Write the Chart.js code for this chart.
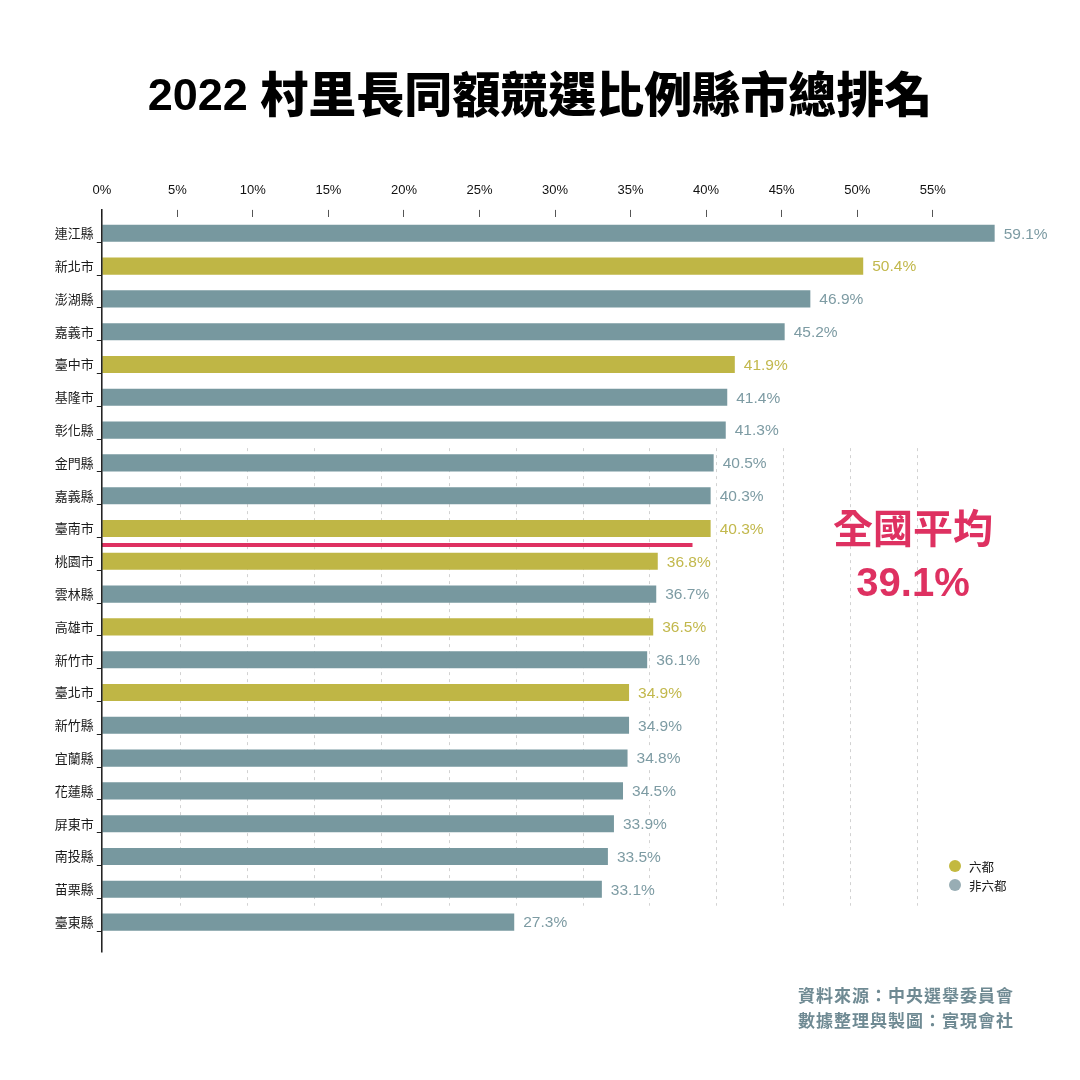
<!DOCTYPE html>
<html>
<head>
<meta charset="utf-8">
<script src="https://cdn.jsdelivr.net/npm/chart.js@4.4.1/dist/chart.umd.min.js"></script>
<style>
html,body{margin:0;padding:0;background:#ffffff;}
#wrap{width:1080px;height:1080px;position:relative;}
canvas{display:block;}
</style>
</head>
<body>
<div id="wrap"><canvas id="c" width="1080" height="1080"></canvas></div>
<script>
// ---------- DATA ----------
const categories = ['連江縣','新北市','澎湖縣','嘉義市','臺中市','基隆市','彰化縣','金門縣','嘉義縣','臺南市','桃園市','雲林縣','高雄市','新竹市','臺北市','新竹縣','宜蘭縣','花蓮縣','屏東市','南投縣','苗栗縣','臺東縣'];
const values = [59.1,50.4,46.9,45.2,41.9,41.4,41.3,40.5,40.3,40.3,36.8,36.7,36.5,36.1,34.9,34.9,34.8,34.5,33.9,33.5,33.1,27.3];
const isSixCity = [0,1,0,0,1,0,0,0,0,1,1,0,1,0,1,0,0,0,0,0,0,0];
const seriesNames = ['六都','非六都'];
const tickValues = [0,5,10,15,20,25,30,35,40,45,50,55];
const gridValues = [5.2,9.63,14.06,18.5,22.95,27.39,31.82,36.25,40.68,45.1,49.53,53.96];
const nationalAverage = 39.1;
const averageLabel = '全國平均';
const titleYear = '2022 ';
const titleText = '村里長同額競選比例縣市總排名';
const sourceLines = ['資料來源：中央選舉委員會','數據整理與製圖：實現會社'];

// ---------- STYLE ----------
const barColors = ['#bfb645', '#77989f'];
const labelColors = ['#c2b84c', '#7d9ba3'];
const legendColors = ['#c3b93f', '#98adb4'];
const avgColor = '#de3161';
const sourceColor = '#6f8a93';
const LATIN = '"Liberation Sans", Arial, "Noto Sans CJK TC", sans-serif';
const CJK = '"Noto Sans CJK TC", "Liberation Sans", sans-serif';

const sixData = values.map((v, i) => isSixCity[i] ? v : null);
const otherData = values.map((v, i) => isSixCity[i] ? null : v);

const deco = {
  id: 'deco',
  beforeDatasetsDraw(chart) {
    const {ctx, scales: {x, y}} = chart;
    ctx.save();
    ctx.strokeStyle = '#d2d2d2';
    ctx.lineWidth = 1;
    ctx.setLineDash([3, 4]);
    const y0 = y.getPixelForValue(6.55), y1 = y.getPixelForValue(20.5);
    gridValues.forEach(v => {
      const px = Math.round(x.getPixelForValue(v)) + 0.5;
      ctx.beginPath(); ctx.moveTo(px, y0); ctx.lineTo(px, y1); ctx.stroke();
    });
    ctx.restore();
  },
  afterDatasetsDraw(chart) {
    const {ctx, scales: {x, y}, chartArea} = chart;
    ctx.save();
    // average line
    const ay = y.getPixelForValue(9.5);
    ctx.strokeStyle = avgColor;
    ctx.lineWidth = 4;
    ctx.beginPath();
    ctx.moveTo(x.getPixelForValue(0), ay);
    ctx.lineTo(x.getPixelForValue(nationalAverage), ay);
    ctx.stroke();

    // value labels + y tick marks
    const x0 = x.getPixelForValue(0);
    ctx.font = '15.5px ' + LATIN;
    ctx.textBaseline = 'middle';
    ctx.textAlign = 'left';
    chart.data.datasets.forEach((ds, di) => {
      const meta = chart.getDatasetMeta(di);
      meta.data.forEach((bar, j) => {
        const v = ds.data[j];
        if (v === null || v === undefined) return;
        const txt = v.toFixed(1) + '%';
        const tx = bar.x + 9;
        const w = ctx.measureText(txt).width;
        ctx.fillStyle = '#ffffff';
        ctx.fillRect(tx - 3, bar.y - 9, w + 6, 18);
        ctx.fillStyle = labelColors[di];
        ctx.fillText(txt, tx, bar.y + 1);
        const ty = Math.round(bar.y + bar.height / 2) + 0.5;
        ctx.strokeStyle = '#222';
        ctx.lineWidth = 1;
        ctx.beginPath(); ctx.moveTo(x0 - 5, ty); ctx.lineTo(x0, ty); ctx.stroke();
      });
    });

    // y axis line
    ctx.strokeStyle = '#1a1a1a';
    ctx.lineWidth = 1.5;
    ctx.beginPath();
    ctx.moveTo(x0, chartArea.top - 8);
    ctx.lineTo(x0, chartArea.bottom + 14);
    ctx.stroke();
    ctx.restore();
  },
  afterDraw(chart) {
    const {ctx} = chart;
    ctx.save();
    // title (latin year + CJK text), centred
    ctx.fillStyle = '#000';
    ctx.textBaseline = 'alphabetic';
    ctx.textAlign = 'left';
    const fYear = 'bold 45px ' + LATIN, fCjk = '900 48px ' + CJK;
    ctx.font = fYear; const w1 = ctx.measureText(titleYear).width;
    ctx.font = fCjk; const w2 = ctx.measureText(titleText).width;
    const tx0 = 540 - (w1 + w2) / 2;
    ctx.font = fYear; ctx.fillText(titleYear, tx0, 110);
    ctx.font = fCjk; ctx.fillText(titleText, tx0 + w1, 112);

    // average annotation
    ctx.textBaseline = 'middle';
    ctx.textAlign = 'center';
    ctx.fillStyle = avgColor;
    ctx.font = 'bold 40px ' + CJK;
    ctx.fillText(averageLabel, 913, 528);
    ctx.font = 'bold 40px ' + LATIN;
    ctx.fillText(nationalAverage.toFixed(1) + '%', 913, 585);

    // legend
    ctx.textAlign = 'left';
    ctx.font = '12.5px ' + CJK;
    seriesNames.forEach((name, i) => {
      const ly = 866 + i * 19;
      ctx.fillStyle = legendColors[i];
      ctx.beginPath(); ctx.arc(955, ly, 6, 0, Math.PI * 2); ctx.fill();
      ctx.fillStyle = '#1a1a1a';
      ctx.fillText(name, 969, ly + 1);
    });

    // source (justified lines)
    ctx.fillStyle = sourceColor;
    ctx.font = 'bold 17px ' + CJK;
    const left = 798, right = 1013;
    sourceLines.forEach((line, li) => {
      const chars = Array.from(line);
      const widths = chars.map(c => ctx.measureText(c).width);
      const total = widths.reduce((a, b) => a + b, 0);
      const gap = (right - left - total) / (chars.length - 1);
      let cx = left;
      const ly = 996 + li * 25;
      chars.forEach((c, k) => { ctx.fillText(c, cx, ly); cx += widths[k] + gap; });
    });
    ctx.restore();
  }
};

new Chart(document.getElementById('c'), {
  type: 'bar',
  data: {
    labels: categories,
    datasets: [
      { label: seriesNames[0], data: sixData, backgroundColor: barColors[0], grouped: false, barPercentage: 0.52, categoryPercentage: 1 },
      { label: seriesNames[1], data: otherData, backgroundColor: barColors[1], grouped: false, barPercentage: 0.52, categoryPercentage: 1 }
    ]
  },
  options: {
    indexAxis: 'y',
    responsive: false,
    animation: false,
    devicePixelRatio: 1,
    layout: { padding: { left: 0, right: 79.3, top: 176.9, bottom: 141.5 } },
    plugins: { legend: { display: false }, title: { display: false }, tooltip: { enabled: false } },
    scales: {
      x: {
        position: 'top',
        min: 0, max: 59.5,
        afterBuildTicks: s => { s.ticks = tickValues.map(v => ({ value: v })); },
        afterFit: s => { s.height = 40; },
        border: { display: false },
        grid: { display: true, drawOnChartArea: false, drawTicks: true, tickLength: 7, color: '#555', lineWidth: 1 },
        ticks: { padding: 12, color: '#111', font: { family: LATIN, size: 13 }, callback: v => v + '%', maxRotation: 0 }
      },
      y: {
        position: 'left',
        afterFit: s => { s.width = 101.8; },
        border: { display: false },
        grid: { display: false, drawTicks: false },
        ticks: { padding: 8, color: '#1a1a1a', font: { family: CJK, size: 13 } }
      }
    }
  },
  plugins: [deco]
});
</script>
</body>
</html>
